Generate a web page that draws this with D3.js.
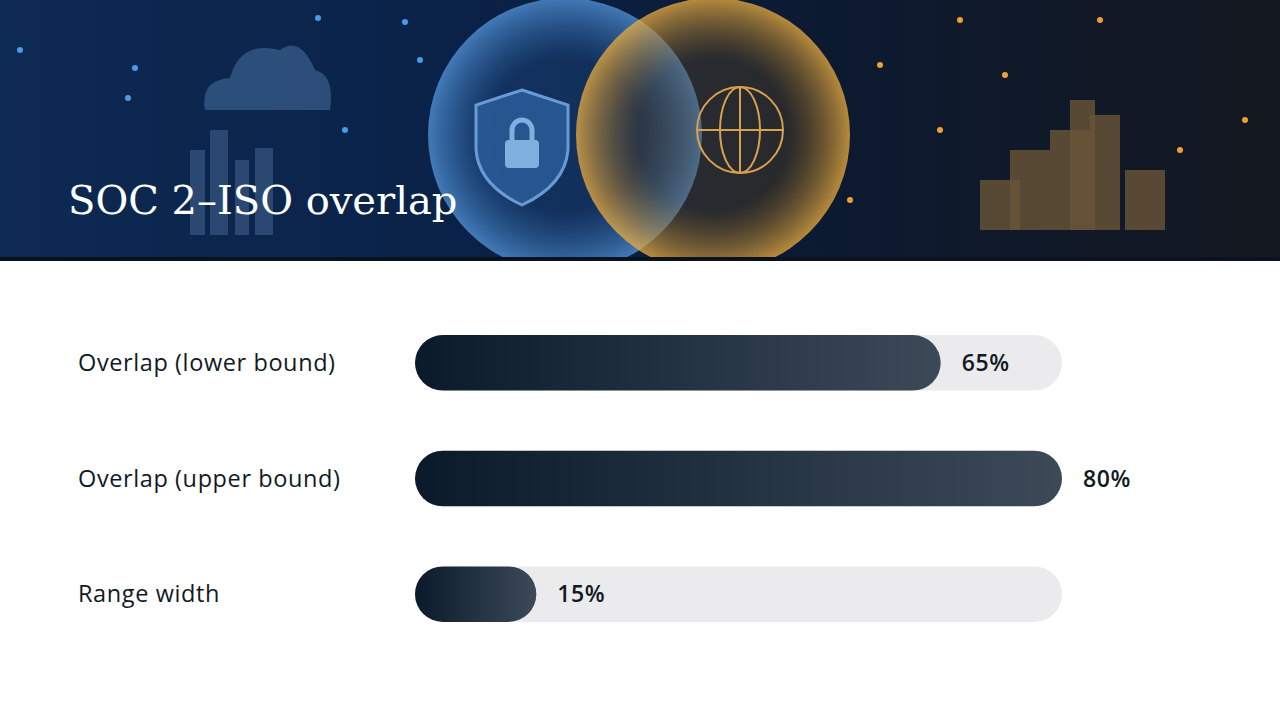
<!DOCTYPE html>
<html><head><meta charset="utf-8">
<script src="https://cdn.jsdelivr.net/npm/d3@7"></script>
<style>body{margin:0;background:#fff}svg{display:block}</style>
</head><body><svg id="c" width="1280" height="720"></svg>
<script>
const categories = ["Overlap (lower bound)", "Overlap (upper bound)", "Range width"];
const values = [65, 80, 15];
const valueLabels = ["65%", "80%", "15%"];
const title = "SOC 2\u2013ISO overlap";

const svg = d3.select("#c");
const defs = svg.append("defs");
defs.append("clipPath").attr("id","hc").append("rect").attr("width",1280).attr("height",258);

const hg = defs.append("linearGradient").attr("id","hg").attr("x1",0).attr("x2",1).attr("y1",0).attr("y2",0);
hg.append("stop").attr("offset","0%").attr("stop-color","#0d2a52");
hg.append("stop").attr("offset","35%").attr("stop-color","#0a2248");
hg.append("stop").attr("offset","65%").attr("stop-color","#0c1a30");
hg.append("stop").attr("offset","100%").attr("stop-color","#141820");
const H = svg.append("g").attr("clip-path","url(#hc)");
H.append("rect").attr("width",1280).attr("height",260).attr("fill","url(#hg)");
svg.append("rect").attr("y",257).attr("width",1280).attr("height",4).attr("fill","#0a1220");

const bl = defs.append("radialGradient").attr("id","bl");
bl.append("stop").attr("offset","55%").attr("stop-color","#1e4f8f").attr("stop-opacity",0.35);
bl.append("stop").attr("offset","100%").attr("stop-color","#5aa0e8").attr("stop-opacity",0.7);
const og = defs.append("radialGradient").attr("id","og");
og.append("stop").attr("offset","55%").attr("stop-color","#6a4a1a").attr("stop-opacity",0.3);
og.append("stop").attr("offset","100%").attr("stop-color","#f0b040").attr("stop-opacity",0.75);
H.append("circle").attr("cx",565).attr("cy",135).attr("r",137).attr("fill","url(#bl)");
H.append("circle").attr("cx",713).attr("cy",135).attr("r",137).attr("fill","url(#og)");
H.append("path").attr("d","M205,110 Q200,80 230,78 Q240,40 280,50 Q300,35 315,70 Q335,75 330,110 Z").attr("fill","#3a5f8f").attr("opacity",0.7);
H.append("path").attr("d","M522,90 L568,105 L568,150 Q565,185 522,205 Q479,185 476,150 L476,105 Z").attr("fill","#2a5a96").attr("stroke","#6fa8e0").attr("stroke-width",3).attr("opacity",0.9);
H.append("rect").attr("x",505).attr("y",140).attr("width",34).attr("height",28).attr("rx",4).attr("fill","#7fb0e0");
H.append("path").attr("d","M512,140 v-10 a10,10 0 0 1 20,0 v10").attr("fill","none").attr("stroke","#7fb0e0").attr("stroke-width",5);
const gl = H.append("g").attr("fill","none").attr("stroke","#d9a050").attr("stroke-width",2);
gl.append("circle").attr("cx",740).attr("cy",130).attr("r",43);
gl.append("ellipse").attr("cx",740).attr("cy",130).attr("rx",20).attr("ry",43);
gl.append("line").attr("x1",697).attr("x2",783).attr("y1",130).attr("y2",130);
gl.append("line").attr("x1",740).attr("x2",740).attr("y1",87).attr("y2",173);
[[20,50],[135,68],[128,98],[318,18],[345,130],[420,60],[405,22],[960,20],[1005,75],[880,65],[940,130],[1245,120],[1180,150],[1100,20],[850,200]].forEach(([x,y])=>
  H.append("circle").attr("cx",x).attr("cy",y).attr("r",3).attr("fill",x>800?"#f0a030":"#4a9ae8"));
H.append("g").selectAll("rect").data([[190,150,15],[210,130,18],[235,160,14],[255,148,18]]).join("rect")
  .attr("x",d=>d[0]).attr("y",d=>d[1]).attr("width",d=>d[2]).attr("height",d=>235-d[1]).attr("fill","#4a6a95").attr("opacity",0.5);
H.append("g").selectAll("rect").data([[1010,150,40],[1050,130,40],[1090,115,30],[1125,170,40],[980,180,40],[1070,100,25]]).join("rect")
  .attr("x",d=>d[0]).attr("y",d=>d[1]).attr("width",d=>d[2]).attr("height",d=>230-d[1]).attr("fill","#6a5538").attr("opacity",0.8);

svg.append("text").attr("x",68).attr("y",214).attr("fill","#fff")
  .attr("font-family","DejaVu Serif, serif").attr("font-size",40).text(title);

const x = d3.scaleLinear().domain([0, d3.max(values)]).range([415, 1062]);
const y = d3.scaleBand().domain(categories).range([305, 652]).paddingInner(0.52).paddingOuter(0.26);
const bh = y.bandwidth();

const rows = svg.append("g").selectAll("g").data(categories).join("g");
rows.each(function(c,i){
  const g = d3.select(this);
  const gid = "bg"+i;
  const gr = defs.append("linearGradient").attr("id",gid).attr("gradientUnits","userSpaceOnUse")
    .attr("x1",x(0)).attr("x2",x(values[i])).attr("y1",0).attr("y2",0);
  gr.append("stop").attr("offset","0%").attr("stop-color","#0a1a2a");
  gr.append("stop").attr("offset","100%").attr("stop-color","#3c4a58");
  g.append("rect").attr("x",x(0)).attr("y",y(c)).attr("width",x.range()[1]-x(0)).attr("height",bh).attr("rx",bh/2).attr("fill","#ebebed");
  g.append("rect").attr("x",x(0)).attr("y",y(c)).attr("width",x(values[i])-x(0)).attr("height",bh).attr("rx",bh/2).attr("fill",`url(#${gid})`);
  g.append("text").attr("x",78).attr("y",y(c)+bh/2).attr("dy","0.35em").attr("fill","#111a24")
    .attr("font-family","Open Sans, sans-serif").attr("font-size",23.5).attr("letter-spacing",0.6).text(c);
  g.append("text").attr("x",x(values[i])+21).attr("y",y(c)+bh/2).attr("dy","0.35em").attr("fill","#111a24")
    .attr("font-family","Open Sans, sans-serif").attr("font-weight",600).attr("font-size",23).attr("letter-spacing",0.6).text(valueLabels[i]);
});
</script></body></html>
